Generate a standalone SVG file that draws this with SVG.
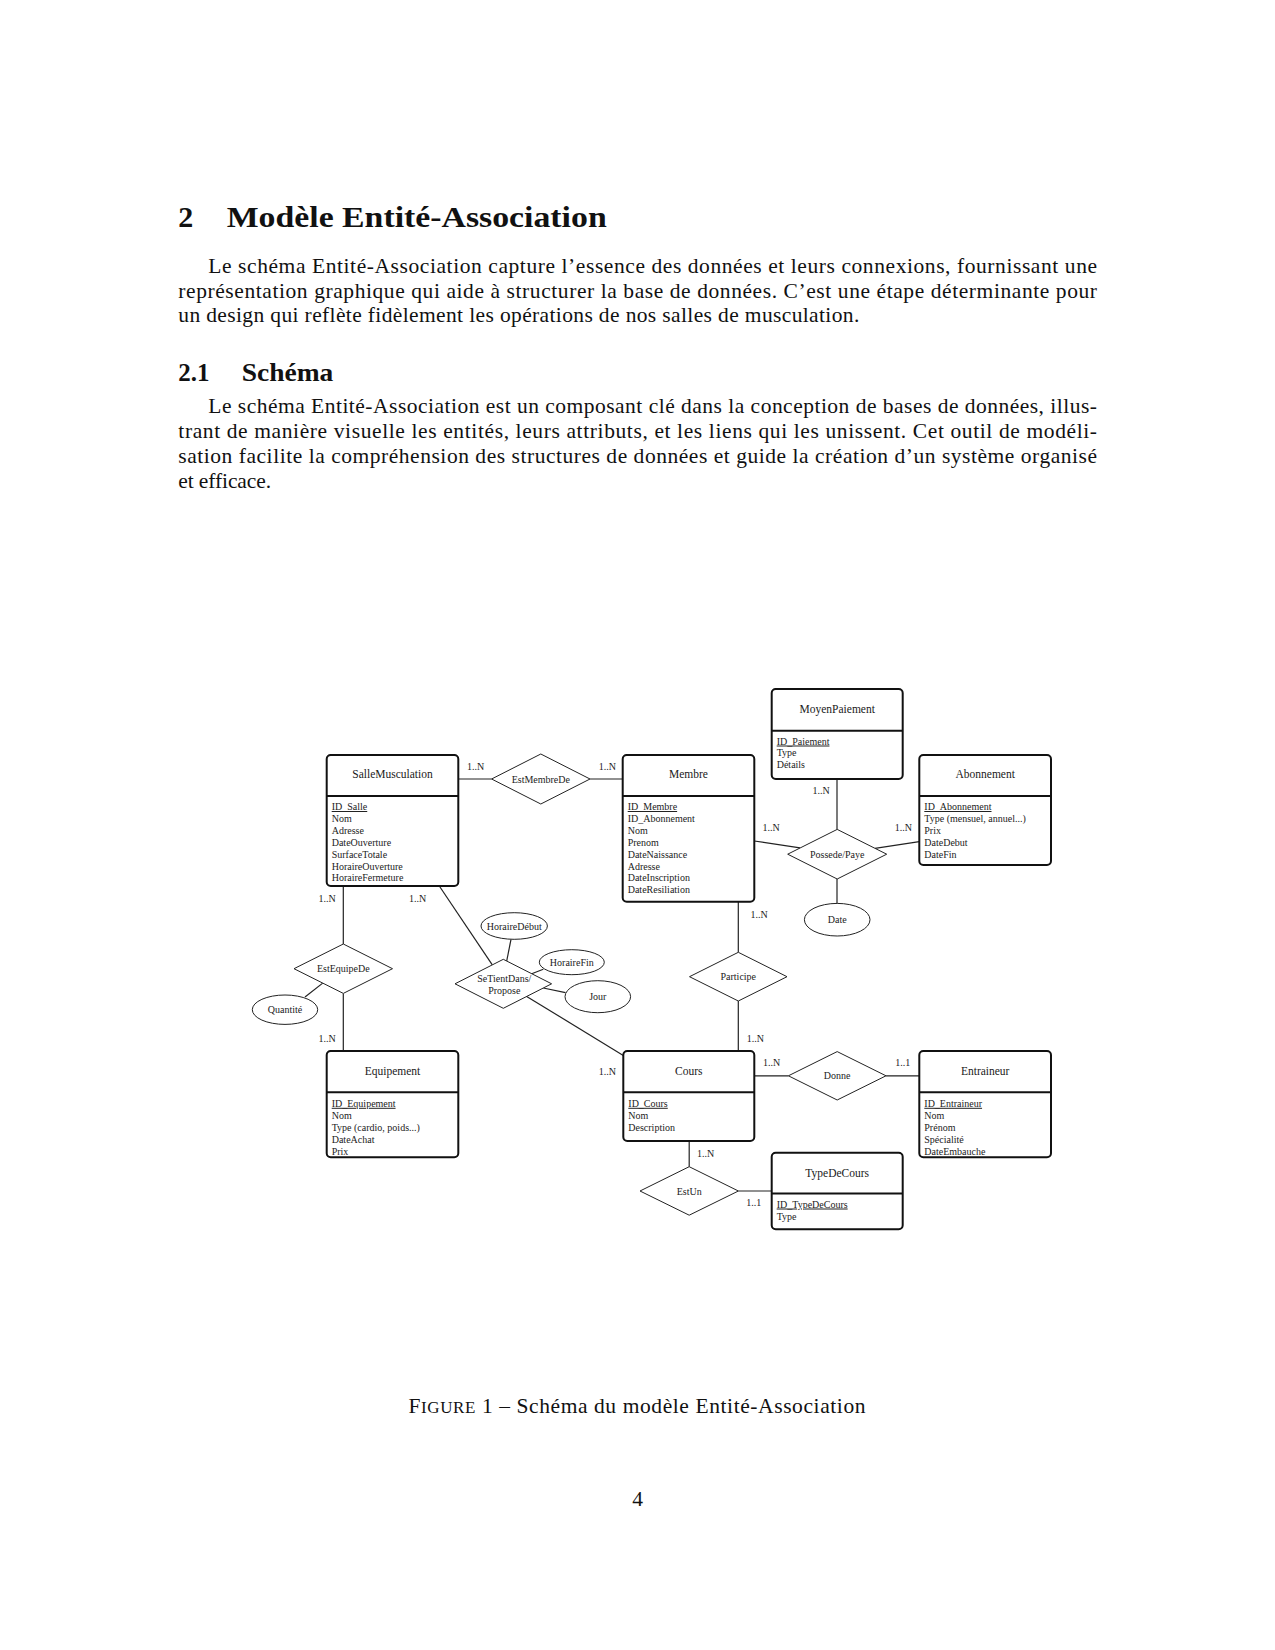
<svg xmlns="http://www.w3.org/2000/svg" width="1275" height="1650" viewBox="0 0 1275 1650">
<style>
.page{font-family:"Liberation Serif","Times New Roman",serif;fill:#111}
.h1{font-size:30px;font-weight:bold}
.h2{font-size:25px;font-weight:bold}
.body{font-size:21.5px}
.ent rect{fill:#fff;stroke:#111;stroke-width:2}
.ent line{stroke:#111;stroke-width:2}
.t{font-family:"Liberation Serif","Times New Roman",serif;fill:#1a1a1a;font-size:11.5px;text-anchor:middle}
.a{font-family:"Liberation Serif","Times New Roman",serif;fill:#222;font-size:10px}
.pk{text-decoration:underline}
.rel polygon,.rel ellipse{fill:#fff;stroke:#222;stroke-width:1}
.rl{font-family:"Liberation Serif","Times New Roman",serif;fill:#222;font-size:10px;text-anchor:middle}
#connectors line{stroke:#222;stroke-width:1.2}
.card{font-family:"Liberation Serif","Times New Roman",serif;fill:#222;font-size:10px;text-anchor:middle}
</style>
<rect width="1275" height="1650" fill="#fff"/>

<g id="page-text" class="page">
<text class="h1" x="178.3" y="226.7">2</text>
<text class="h1" x="226.7" y="226.7" textLength="380" lengthAdjust="spacingAndGlyphs">Modèle Entité-Association</text>
<text class="body" x="208.3" y="272.7" textLength="888.7" lengthAdjust="spacing">Le schéma Entité-Association capture l’essence des données et leurs connexions, fournissant une</text>
<text class="body" x="178.3" y="297.5" textLength="918.7" lengthAdjust="spacing">représentation graphique qui aide à structurer la base de données. C’est une étape déterminante pour</text>
<text class="body" x="178.3" y="322.3" textLength="681" lengthAdjust="spacing">un design qui reflète fidèlement les opérations de nos salles de musculation.</text>
<text class="h2" x="178.3" y="380.7">2.1</text>
<text class="h2" x="241.7" y="380.7" textLength="91.6" lengthAdjust="spacingAndGlyphs">Schéma</text>
<text class="body" x="208.3" y="412.7" textLength="888.7" lengthAdjust="spacing">Le schéma Entité-Association est un composant clé dans la conception de bases de données, illus-</text>
<text class="body" x="178.3" y="437.7" textLength="918.7" lengthAdjust="spacing">trant de manière visuelle les entités, leurs attributs, et les liens qui les unissent. Cet outil de modéli-</text>
<text class="body" x="178.3" y="462.7" textLength="918.7" lengthAdjust="spacing">sation facilite la compréhension des structures de données et guide la création d’un système organisé</text>
<text class="body" x="178.3" y="487.7" textLength="92.7" lengthAdjust="spacing">et efficace.</text>
<text class="body" x="408.5" y="1413" textLength="457" lengthAdjust="spacing">F<tspan font-size="17px">IGURE</tspan> 1 – Schéma du modèle Entité-Association</text>
<text class="body" x="637.7" y="1505.7" text-anchor="middle">4</text>
</g>

<g id="connectors">
<line x1="458.3" y1="779" x2="491.6" y2="779"/>
<line x1="590" y1="779" x2="622.7" y2="779"/>
<line x1="837" y1="779" x2="837" y2="829.4"/>
<line x1="754.3" y1="841" x2="800" y2="847.8"/>
<line x1="919.3" y1="841.7" x2="875" y2="848.3"/>
<line x1="837" y1="879" x2="837" y2="903.4"/>
<line x1="738.3" y1="901.7" x2="738.3" y2="952.3"/>
<line x1="738.3" y1="1001" x2="738.3" y2="1051"/>
<line x1="754.3" y1="1075.8" x2="788.4" y2="1075.8"/>
<line x1="886" y1="1075.8" x2="919.3" y2="1075.8"/>
<line x1="689.2" y1="1141" x2="689.2" y2="1166.7"/>
<line x1="738.4" y1="1191" x2="771.7" y2="1191"/>
<line x1="343.3" y1="886" x2="343.3" y2="944"/>
<line x1="343.3" y1="993.4" x2="343.3" y2="1051"/>
<line x1="305" y1="997" x2="322.7" y2="983.1"/>
<line x1="439.3" y1="886" x2="492.3" y2="964.9"/>
<line x1="526.7" y1="996.4" x2="623.3" y2="1055.5"/>
<line x1="511" y1="939.3" x2="506.7" y2="961"/>
<line x1="543.3" y1="969.3" x2="531.7" y2="973.7"/>
<line x1="543.3" y1="988" x2="565.5" y2="992.7"/>
</g>

<g id="cardinalities">
<text class="card" x="475.5" y="770">1..N</text>
<text class="card" x="607.3" y="770">1..N</text>
<text class="card" x="327" y="901.7">1..N</text>
<text class="card" x="417.7" y="901.7">1..N</text>
<text class="card" x="327" y="1041.7">1..N</text>
<text class="card" x="607.3" y="1074.5">1..N</text>
<text class="card" x="759" y="917.5">1..N</text>
<text class="card" x="755.3" y="1041.8">1..N</text>
<text class="card" x="771.7" y="1065.8">1..N</text>
<text class="card" x="902.7" y="1065.8">1..1</text>
<text class="card" x="705.5" y="1156.8">1..N</text>
<text class="card" x="753.8" y="1205.8">1..1</text>
<text class="card" x="821" y="794.2">1..N</text>
<text class="card" x="771" y="831.2">1..N</text>
<text class="card" x="903.3" y="831.2">1..N</text>
</g>

<g id="SalleMusculation" class="ent">
<rect x="326.7" y="755" width="131.6" height="131" rx="4"/>
<line x1="326.7" y1="796" x2="458.3" y2="796"/>
<text class="t" x="392.5" y="777.8">SalleMusculation</text>
<text class="a pk" x="331.7" y="810">ID_Salle</text>
<text class="a" x="331.7" y="821.9">Nom</text>
<text class="a" x="331.7" y="833.8">Adresse</text>
<text class="a" x="331.7" y="845.7">DateOuverture</text>
<text class="a" x="331.7" y="857.6">SurfaceTotale</text>
<text class="a" x="331.7" y="869.5">HoraireOuverture</text>
<text class="a" x="331.7" y="881.4">HoraireFermeture</text>
</g>

<g id="Membre" class="ent">
<rect x="622.7" y="755" width="131.6" height="146.7" rx="4"/>
<line x1="622.7" y1="796" x2="754.3" y2="796"/>
<text class="t" x="688.5" y="777.8">Membre</text>
<text class="a pk" x="627.7" y="810">ID_Membre</text>
<text class="a" x="627.7" y="821.9">ID_Abonnement</text>
<text class="a" x="627.7" y="833.8">Nom</text>
<text class="a" x="627.7" y="845.7">Prenom</text>
<text class="a" x="627.7" y="857.6">DateNaissance</text>
<text class="a" x="627.7" y="869.5">Adresse</text>
<text class="a" x="627.7" y="881.4">DateInscription</text>
<text class="a" x="627.7" y="893.3">DateResiliation</text>
</g>

<g id="MoyenPaiement" class="ent">
<rect x="771.7" y="689" width="131" height="90" rx="4"/>
<line x1="771.7" y1="730.7" x2="902.7" y2="730.7"/>
<text class="t" x="837.2" y="712.8">MoyenPaiement</text>
<text class="a pk" x="776.7" y="744.5">ID_Paiement</text>
<text class="a" x="776.7" y="756">Type</text>
<text class="a" x="776.7" y="768">Détails</text>
</g>

<g id="Abonnement" class="ent">
<rect x="919.3" y="755" width="131.7" height="110" rx="4"/>
<line x1="919.3" y1="796" x2="1051" y2="796"/>
<text class="t" x="985.2" y="777.8">Abonnement</text>
<text class="a pk" x="924.3" y="810">ID_Abonnement</text>
<text class="a" x="924.3" y="821.9">Type (mensuel, annuel...)</text>
<text class="a" x="924.3" y="833.8">Prix</text>
<text class="a" x="924.3" y="845.7">DateDebut</text>
<text class="a" x="924.3" y="857.6">DateFin</text>
</g>

<g id="Equipement" class="ent">
<rect x="326.7" y="1051" width="131.6" height="106.3" rx="4"/>
<line x1="326.7" y1="1092.3" x2="458.3" y2="1092.3"/>
<text class="t" x="392.5" y="1074.8">Equipement</text>
<text class="a pk" x="331.7" y="1106.8">ID_Equipement</text>
<text class="a" x="331.7" y="1118.6">Nom</text>
<text class="a" x="331.7" y="1130.6">Type (cardio, poids...)</text>
<text class="a" x="331.7" y="1142.5">DateAchat</text>
<text class="a" x="331.7" y="1154.5">Prix</text>
</g>

<g id="Cours" class="ent">
<rect x="623.3" y="1051" width="131" height="90" rx="4"/>
<line x1="623.3" y1="1092.3" x2="754.3" y2="1092.3"/>
<text class="t" x="688.8" y="1074.7">Cours</text>
<text class="a pk" x="628.3" y="1106.8">ID_Cours</text>
<text class="a" x="628.3" y="1118.6">Nom</text>
<text class="a" x="628.3" y="1130.6">Description</text>
</g>

<g id="Entraineur" class="ent">
<rect x="919.3" y="1051" width="131.7" height="106.3" rx="4"/>
<line x1="919.3" y1="1092.3" x2="1051" y2="1092.3"/>
<text class="t" x="985.2" y="1074.7">Entraineur</text>
<text class="a pk" x="924.3" y="1106.8">ID_Entraineur</text>
<text class="a" x="924.3" y="1118.6">Nom</text>
<text class="a" x="924.3" y="1130.6">Prénom</text>
<text class="a" x="924.3" y="1142.5">Spécialité</text>
<text class="a" x="924.3" y="1154.5">DateEmbauche</text>
</g>

<g id="TypeDeCours" class="ent">
<rect x="771.7" y="1152.7" width="131" height="76.6" rx="4"/>
<line x1="771.7" y1="1193.5" x2="902.7" y2="1193.5"/>
<text class="t" x="837.2" y="1176.5">TypeDeCours</text>
<text class="a pk" x="776.7" y="1207.5">ID_TypeDeCours</text>
<text class="a" x="776.7" y="1219.5">Type</text>
</g>

<g id="EstMembreDe" class="rel">
<polygon points="491.6,779 540.8,754 590,779 540.8,804"/>
<text class="rl" x="540.8" y="782.5">EstMembreDe</text>
</g>
<g id="PossedePaye" class="rel">
<polygon points="787.7,854.2 837.2,829.4 886.7,854.2 837.2,879"/>
<text class="rl" x="837.2" y="857.5">Possede/Paye</text>
</g>
<g id="Participe" class="rel">
<polygon points="689.5,976.7 738.3,952.3 787,976.7 738.3,1001"/>
<text class="rl" x="738.3" y="980">Participe</text>
</g>
<g id="Donne" class="rel">
<polygon points="788.4,1075.8 837.2,1051.6 886,1075.8 837.2,1100"/>
<text class="rl" x="837.2" y="1079.3">Donne</text>
</g>
<g id="EstUn" class="rel">
<polygon points="640,1191 689.2,1166.7 738.4,1191 689.2,1215.2"/>
<text class="rl" x="689.2" y="1194.5">EstUn</text>
</g>
<g id="EstEquipeDe" class="rel">
<polygon points="294,968.7 343.3,944 392.5,968.7 343.3,993.4"/>
<text class="rl" x="343.3" y="972.2">EstEquipeDe</text>
</g>
<g id="SeTientDansPropose" class="rel">
<polygon points="455,983.8 503.3,959.3 551.6,983.8 503.3,1008.3"/>
<text class="rl" x="504.3" y="981.7">SeTientDans/</text>
<text class="rl" x="504.3" y="994.1">Propose</text>
</g>

<g id="Date" class="rel">
<ellipse cx="837.2" cy="919.7" rx="32.8" ry="16.3"/>
<text class="rl" x="837.2" y="923.2">Date</text>
</g>
<g id="Quantite" class="rel">
<ellipse cx="285" cy="1009.7" rx="32.7" ry="14.7"/>
<text class="rl" x="285" y="1013.2">Quantité</text>
</g>
<g id="HoraireDebut" class="rel">
<ellipse cx="514.2" cy="926" rx="33.2" ry="13.3"/>
<text class="rl" x="514.2" y="929.5">HoraireDébut</text>
</g>
<g id="HoraireFin" class="rel">
<ellipse cx="571.8" cy="962.2" rx="32.5" ry="12.5"/>
<text class="rl" x="571.8" y="965.7">HoraireFin</text>
</g>
<g id="Jour" class="rel">
<ellipse cx="597.8" cy="996.7" rx="32.8" ry="16"/>
<text class="rl" x="597.8" y="1000.2">Jour</text>
</g>
</svg>
